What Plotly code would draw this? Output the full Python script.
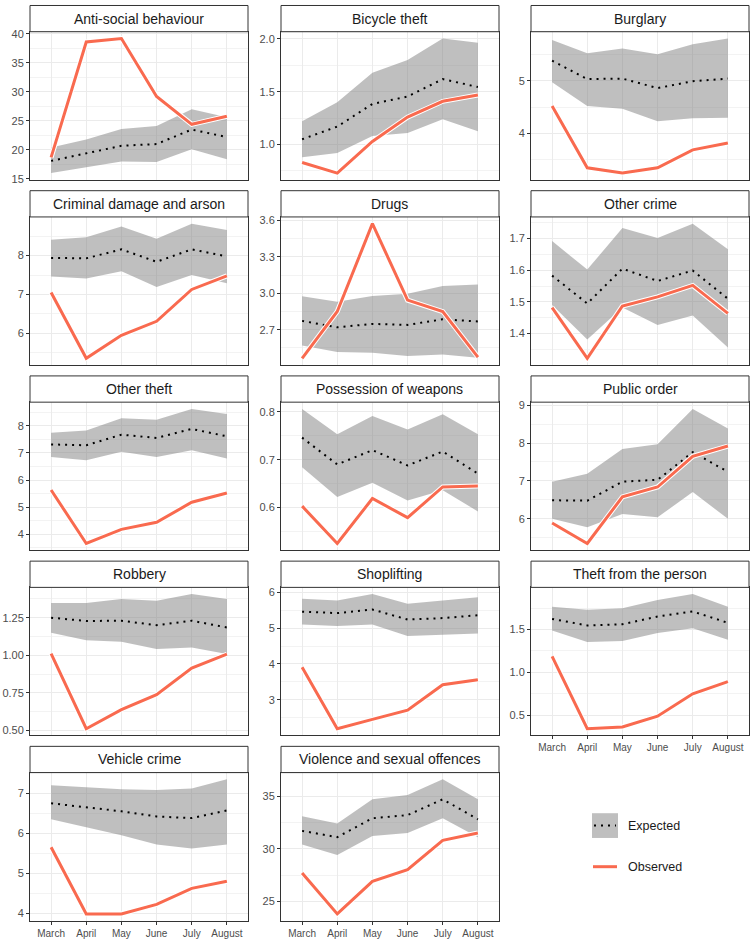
import plotly.graph_objects as go

months = ["March", "April", "May", "June", "July", "August"]

# ---- data ----
asb_exp = [18.1, 19.4, 20.7, 21.0, 23.5, 22.2]
asb_lo = [16.0, 17.0, 18.0, 17.9, 20.1, 18.4]
asb_hi = [20.4, 21.8, 23.6, 24.1, 27.0, 25.6]
asb_obs = [18.7, 38.6, 39.2, 29.2, 24.4, 25.8]

bike_exp = [1.05, 1.17, 1.385, 1.455, 1.62, 1.545]
bike_lo = [0.88, 0.92, 1.08, 1.11, 1.24, 1.125]
bike_hi = [1.22, 1.40, 1.68, 1.80, 2.005, 1.965]
bike_obs = [0.83, 0.73, 1.03, 1.26, 1.41, 1.47]

burg_exp = [5.38, 5.03, 5.04, 4.86, 4.99, 5.04]
burg_lo = [4.97, 4.52, 4.47, 4.23, 4.29, 4.30]
burg_hi = [5.77, 5.52, 5.61, 5.50, 5.69, 5.80]
burg_obs = [4.52, 3.35, 3.25, 3.35, 3.69, 3.82]

cda_exp = [7.94, 7.93, 8.16, 7.84, 8.16, 7.98]
cda_lo = [7.46, 7.41, 7.60, 7.19, 7.50, 7.29]
cda_hi = [8.41, 8.47, 8.75, 8.43, 8.82, 8.66]
cda_obs = [7.05, 5.36, 5.95, 6.31, 7.13, 7.48]

drugs_exp = [2.773, 2.72, 2.748, 2.74, 2.786, 2.768]
drugs_lo = [2.57, 2.516, 2.51, 2.484, 2.497, 2.47]
drugs_hi = [2.976, 2.93, 2.978, 2.997, 3.06, 3.073]
drugs_obs = [2.465, 2.85, 3.573, 2.944, 2.85, 2.475]

ocrime_exp = [1.583, 1.495, 1.605, 1.566, 1.599, 1.51]
ocrime_lo = [1.49, 1.381, 1.482, 1.427, 1.457, 1.356]
ocrime_hi = [1.692, 1.602, 1.733, 1.702, 1.747, 1.666]
ocrime_obs = [1.482, 1.322, 1.487, 1.516, 1.552, 1.464]

otheft_exp = [7.31, 7.28, 7.67, 7.55, 7.88, 7.61]
otheft_lo = [6.85, 6.73, 7.04, 6.85, 7.10, 6.79]
otheft_hi = [7.74, 7.82, 8.28, 8.22, 8.62, 8.43]
otheft_obs = [5.63, 3.66, 4.18, 4.44, 5.18, 5.52]

weap_exp = [0.746, 0.69, 0.72, 0.688, 0.717, 0.671]
weap_lo = [0.684, 0.622, 0.652, 0.615, 0.636, 0.592]
weap_hi = [0.806, 0.753, 0.791, 0.763, 0.795, 0.753]
weap_obs = [0.603, 0.525, 0.619, 0.579, 0.643, 0.645]

puborder_exp = [6.49, 6.48, 6.98, 7.03, 7.76, 7.24]
puborder_lo = [6.0, 5.78, 6.13, 6.04, 6.71, 6.0]
puborder_hi = [6.98, 7.19, 7.84, 7.97, 8.90, 8.38]
puborder_obs = [5.89, 5.35, 6.58, 6.84, 7.65, 7.92]

robbery_exp = [1.25, 1.228, 1.23, 1.20, 1.23, 1.185]
robbery_lo = [1.15, 1.10, 1.09, 1.041, 1.052, 1.009]
robbery_hi = [1.348, 1.348, 1.374, 1.363, 1.407, 1.374]
robbery_obs = [1.011, 0.511, 0.638, 0.738, 0.915, 1.007]

shop_exp = [5.46, 5.42, 5.52, 5.24, 5.28, 5.36]
shop_lo = [5.10, 5.06, 5.10, 4.78, 4.81, 4.85]
shop_hi = [5.82, 5.77, 5.95, 5.68, 5.77, 5.86]
shop_obs = [3.91, 2.19, 2.45, 2.71, 3.42, 3.56]

tfp_exp = [1.623, 1.546, 1.56, 1.65, 1.71, 1.577]
tfp_lo = [1.488, 1.354, 1.365, 1.458, 1.515, 1.38]
tfp_hi = [1.765, 1.73, 1.746, 1.842, 1.912, 1.765]
tfp_obs = [1.185, 0.342, 0.362, 0.488, 0.75, 0.892]

vehicle_exp = [6.75, 6.65, 6.55, 6.42, 6.38, 6.57]
vehicle_lo = [6.35, 6.15, 5.95, 5.72, 5.62, 5.72]
vehicle_hi = [7.20, 7.15, 7.10, 7.08, 7.12, 7.35]
vehicle_obs = [5.65, 3.98, 3.98, 4.22, 4.62, 4.80]

violence_exp = [31.7, 31.1, 32.9, 33.2, 34.7, 32.8]
violence_lo = [30.4, 29.4, 31.2, 31.5, 32.9, 31.1]
violence_hi = [33.1, 32.4, 34.7, 35.1, 36.6, 34.7]
violence_obs = [27.7, 23.8, 26.9, 28.0, 30.8, 31.5]

titles = ["Anti-social behaviour", "Bicycle theft", "Burglary",
          "Criminal damage and arson", "Drugs", "Other crime",
          "Other theft", "Possession of weapons", "Public order",
          "Robbery", "Shoplifting", "Theft from the person",
          "Vehicle crime", "Violence and sexual offences"]

panel_data = [
    (asb_exp, asb_lo, asb_hi, asb_obs),
    (bike_exp, bike_lo, bike_hi, bike_obs),
    (burg_exp, burg_lo, burg_hi, burg_obs),
    (cda_exp, cda_lo, cda_hi, cda_obs),
    (drugs_exp, drugs_lo, drugs_hi, drugs_obs),
    (ocrime_exp, ocrime_lo, ocrime_hi, ocrime_obs),
    (otheft_exp, otheft_lo, otheft_hi, otheft_obs),
    (weap_exp, weap_lo, weap_hi, weap_obs),
    (puborder_exp, puborder_lo, puborder_hi, puborder_obs),
    (robbery_exp, robbery_lo, robbery_hi, robbery_obs),
    (shop_exp, shop_lo, shop_hi, shop_obs),
    (tfp_exp, tfp_lo, tfp_hi, tfp_obs),
    (vehicle_exp, vehicle_lo, vehicle_hi, vehicle_obs),
    (violence_exp, violence_lo, violence_hi, violence_obs),
]

# y tick spacing and label format per panel
y_dticks = [5, 0.5, 1, 1, 0.3, 0.1, 1, 0.1, 1, 0.25, 1, 0.5, 1, 5]
y_formats = ["d", ".1f", "d", "d", ".1f", ".1f", "d", ".1f", "d", ".2f", "d", ".1f", "d", "d"]

# ---- layout geometry (pixels) ----
W, H = 752, 944
col_x0 = [30, 281, 531]
col_w = 218
row_top = [1.5, 188.5, 375.5, 562.5, 749.5]
strip_h = 26.5
plot_h = 149.5

OBS_COL = "#F96A4F"
GRID = "#EBEBEB"
FONT = "Liberation Sans, Arial, sans-serif"

fig = go.Figure()
shapes = []
annotations = []
layout = {}


def px_x(x):
    return x / W


def px_y(y):
    return 1 - y / H


for i, (title, (exp, lo, hi, obs)) in enumerate(zip(titles, panel_data)):
    r, c = divmod(i, 3)
    n = i + 1
    xa = "x" if n == 1 else f"x{n}"
    ya = "y" if n == 1 else f"y{n}"
    xkey = "xaxis" if n == 1 else f"xaxis{n}"
    ykey = "yaxis" if n == 1 else f"yaxis{n}"

    x0 = col_x0[c]
    x1 = x0 + col_w
    s_top = row_top[r]
    p_top = s_top + strip_h
    p_bot = p_top + plot_h

    # ribbon
    fig.add_trace(go.Scatter(
        x=months + months[::-1], y=hi + lo[::-1], xaxis=xa, yaxis=ya,
        fill="toself", fillcolor="rgba(127,127,127,0.5)",
        line=dict(width=0), mode="lines", hoverinfo="skip", showlegend=False))
    # expected dotted
    fig.add_trace(go.Scatter(
        x=months, y=exp, xaxis=xa, yaxis=ya, mode="lines",
        line=dict(color="black", width=2, dash="2px,5px"),
        showlegend=False, name="Expected"))
    # observed with white halo
    fig.add_trace(go.Scatter(
        x=months, y=obs, xaxis=xa, yaxis=ya, mode="lines",
        line=dict(color="white", width=5), hoverinfo="skip", showlegend=False))
    fig.add_trace(go.Scatter(
        x=months, y=obs, xaxis=xa, yaxis=ya, mode="lines",
        line=dict(color=OBS_COL, width=3), showlegend=False, name="Observed"))

    vals = exp + lo + hi + obs
    vmin, vmax = min(vals), max(vals)
    pad = (vmax - vmin) * 0.05
    show_x = i in (11, 12, 13)

    layout[xkey] = dict(
        domain=[px_x(x0), px_x(x1)], anchor=ya,
        type="category", categoryorder="array", categoryarray=months,
        range=[-0.6, 5.6], showgrid=True, gridcolor=GRID, gridwidth=1,
        showline=True, linecolor="#333333", linewidth=1, mirror=True,
        ticks="outside" if show_x else "", ticklen=3, tickcolor="#333333",
        showticklabels=show_x, tickfont=dict(size=10, color="#4D4D4D", family=FONT),
        zeroline=False, fixedrange=True)
    layout[ykey] = dict(
        domain=[px_y(p_bot), px_y(p_top)], anchor=xa,
        range=[vmin - pad, vmax + pad], dtick=y_dticks[i], tick0=0,
        tickformat=y_formats[i],
        showgrid=True, gridcolor=GRID, gridwidth=1,
        minor=dict(dtick=y_dticks[i] / 2, tick0=0, showgrid=True, gridcolor="#F3F3F3", gridwidth=0.6),
        showline=True, linecolor="#333333", linewidth=1, mirror=True,
        ticks="outside", ticklen=3, tickcolor="#333333",
        tickfont=dict(size=11, color="#4D4D4D", family=FONT),
        zeroline=False, fixedrange=True)

    # strip
    shapes.append(dict(type="rect", xref="paper", yref="paper",
                       x0=px_x(x0), x1=px_x(x1), y0=px_y(p_top), y1=px_y(s_top),
                       fillcolor="white", line=dict(color="#333333", width=1)))
    annotations.append(dict(text=title, xref="paper", yref="paper",
                            x=px_x((x0 + x1) / 2), y=px_y((s_top + p_top) / 2),
                            xanchor="center", yanchor="middle", showarrow=False,
                            font=dict(size=14, color="#1A1A1A", family=FONT)))

# ---- manual legend ----
kx0, kx1 = 592, 618
shapes.append(dict(type="rect", xref="paper", yref="paper",
                   x0=px_x(kx0), x1=px_x(kx1), y0=px_y(842), y1=px_y(817),
                   fillcolor="rgba(127,127,127,0.5)", line=dict(width=0)))
shapes.append(dict(type="line", xref="paper", yref="paper",
                   x0=px_x(kx0 + 2), x1=px_x(kx1 - 2), y0=px_y(829.5), y1=px_y(829.5),
                   line=dict(color="black", width=2, dash="2px,5px")))
shapes.append(dict(type="line", xref="paper", yref="paper",
                   x0=px_x(kx0 + 1), x1=px_x(kx1 - 1), y0=px_y(871), y1=px_y(871),
                   line=dict(color=OBS_COL, width=3)))
annotations.append(dict(text="Expected", xref="paper", yref="paper",
                        x=px_x(626), y=px_y(829.5), xanchor="left", yanchor="middle",
                        showarrow=False, font=dict(size=12.5, color="#1A1A1A", family=FONT)))
annotations.append(dict(text="Observed", xref="paper", yref="paper",
                        x=px_x(626), y=px_y(871), xanchor="left", yanchor="middle",
                        showarrow=False, font=dict(size=12.5, color="#1A1A1A", family=FONT)))

fig.update_layout(
    width=W, height=H, margin=dict(l=0, r=0, t=0, b=0),
    paper_bgcolor="white", plot_bgcolor="white",
    showlegend=False, shapes=shapes, annotations=annotations,
    font=dict(family=FONT), **layout)

fig.write_html("out.html", config={"displayModeBar": False},
               post_script="document.body.style.margin='0px';document.body.style.overflow='hidden';")
